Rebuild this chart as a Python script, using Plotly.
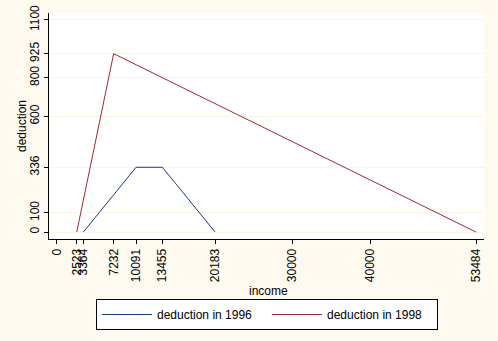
import plotly.graph_objects as go

income_1996 = [3364, 10091, 13455, 20183]
deduction_1996 = [0, 336, 336, 0]
income_1998 = [2523, 7232, 53484]
deduction_1998 = [0, 925, 0]
x_ticks = [0, 2523, 3364, 7232, 10091, 13455, 20183, 30000, 40000, 53484]
y_ticks = [0, 100, 336, 600, 800, 925, 1100]

FONT = "Liberation Sans, Arial, sans-serif"
L, R, T, B = 49, 14, 13, 102
W, H = 498, 341
PW, PH = W - L - R, H - T - B

fig = go.Figure()
fig.add_trace(go.Scatter(x=income_1996, y=deduction_1996, mode="lines",
                         name="deduction in 1996",
                         line=dict(color="#1a3a80", width=1)))
fig.add_trace(go.Scatter(x=income_1998, y=deduction_1998, mode="lines",
                         name="deduction in 1998",
                         line=dict(color="#9b2a35", width=1)))

fig.update_layout(
    width=W, height=H,
    margin=dict(l=L, r=R, t=T, b=B, autoexpand=False),
    paper_bgcolor="#fffaef",
    plot_bgcolor="#ffffff",
    font=dict(family=FONT, size=12, color="#000000"),
    showlegend=True,
    legend=dict(orientation="h", x=(96 - L) / PW, y=(239 - 299) / PH,
                xanchor="left", yanchor="top",
                bgcolor="#ffffff", bordercolor="#000000", borderwidth=1,
                itemwidth=50, entrywidth=105, font=dict(size=12, family=FONT)),
    annotations=[
        dict(text="deduction", x=(22 - L) / PW, y=0.5, xref="paper", yref="paper",
             xanchor="center", yanchor="middle",
             showarrow=False, textangle=-90, font=dict(size=12)),
        dict(text="income", x=(268 - L) / PW, y=(239 - 291) / PH, xref="paper", yref="paper",
             xanchor="center", yanchor="middle",
             showarrow=False, font=dict(size=12)),
    ],
)

fig.update_xaxes(range=[-1020, 54505], tickvals=x_ticks, ticktext=[str(v) for v in x_ticks],
                 tickangle=-90, ticks="outside", ticklen=4, tickcolor="#000000",
                 showline=True, linecolor="#000000", linewidth=1, mirror=False,
                 showgrid=False, zeroline=False, tickfont=dict(size=12), automargin=False)
fig.update_yaxes(range=[-36, 1136], tickvals=y_ticks, ticktext=[str(v) for v in y_ticks],
                 tickangle=-90, ticks="outside", ticklen=4, tickcolor="#000000",
                 showline=True, linecolor="#000000", linewidth=1, mirror=False,
                 showgrid=True, gridcolor="#fbf4e2", gridwidth=1,
                 zeroline=False, tickfont=dict(size=12), automargin=False)

fig.write_html("out.html")
